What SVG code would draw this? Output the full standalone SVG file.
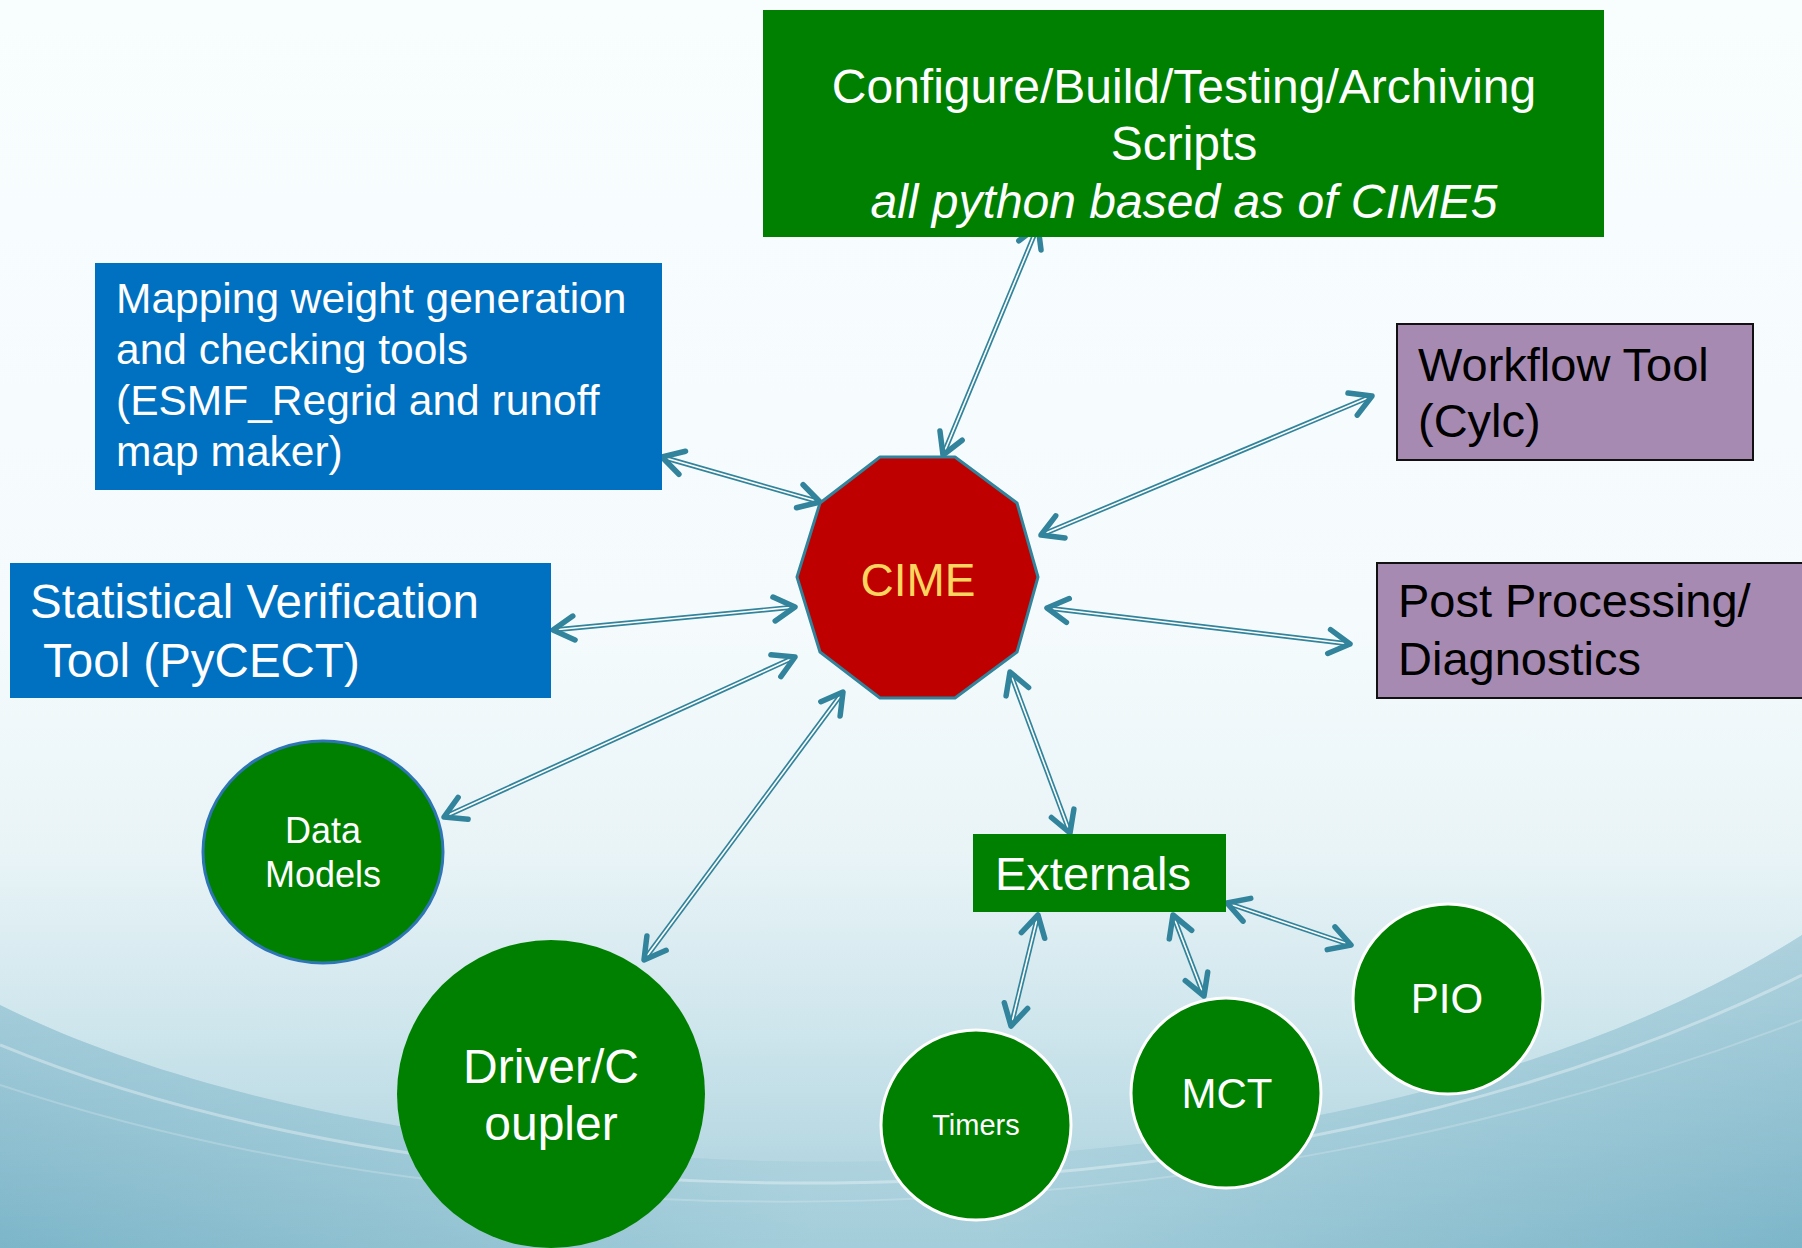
<svg xmlns="http://www.w3.org/2000/svg" width="1802" height="1248" viewBox="0 0 1802 1248">
<defs>
<linearGradient id="bg" x1="0" y1="0" x2="0" y2="1">
<stop offset="0" stop-color="#F8FDFE"/>
<stop offset="0.5" stop-color="#F5FBFD"/>
<stop offset="0.68" stop-color="#E9F4F7"/>
<stop offset="0.82" stop-color="#CFE6ED"/>
<stop offset="1" stop-color="#A6CEDB"/>
</linearGradient>
<linearGradient id="side" x1="0" y1="0" x2="1" y2="0">
<stop offset="0" stop-color="#78B3C7"/>
<stop offset="0.45" stop-color="#A3CDDA"/>
<stop offset="0.55" stop-color="#A3CDDA"/>
<stop offset="1" stop-color="#78B3C7"/>
</linearGradient>
<linearGradient id="fade" x1="0" y1="0" x2="0" y2="1">
<stop offset="0" stop-color="#FFFFFF" stop-opacity="0.35"/>
<stop offset="1" stop-color="#FFFFFF" stop-opacity="0"/>
</linearGradient>
<marker id="ah" viewBox="-26 -16 30 32" markerWidth="30" markerHeight="32" refX="0" refY="0" markerUnits="userSpaceOnUse" orient="auto-start-reverse" overflow="visible">
<path d="M -21 -12 L 0 0 L -21 12" fill="none" stroke="#31849B" stroke-width="5.5" stroke-linecap="round" stroke-linejoin="round"/>
</marker>
<style>
.t{font-family:"Liberation Sans",Arial,sans-serif}
.w{fill:#FFFFFF}
.k{fill:#000000}
.green{fill:#008000}
.blue{fill:#0070C0}
.purple{fill:#A68AB2;stroke:#111111;stroke-width:2}
.wc{fill:#008000;stroke:#FFFFFF;stroke-width:3}
.o{stroke:#31849B;stroke-width:5;fill:none}
.i{stroke:#FFFFFF;stroke-width:1.6;fill:none}
.m{stroke:none;fill:none;marker-start:url(#ah);marker-end:url(#ah)}
</style>
</defs>
<g id="background">
<rect x="0" y="0" width="1802" height="1248" fill="url(#bg)"/>
<path d="M0,1005 C 420,1215 1330,1235 1802,935 L1802,1248 L0,1248 Z" fill="url(#side)" opacity="0.9"/>
<path d="M0,1005 C 420,1215 1330,1235 1802,935 L1802,1248 L0,1248 Z" fill="url(#fade)"/>
<path d="M0,1045 C 450,1230 1250,1250 1802,975" fill="none" stroke="#FFFFFF" stroke-opacity="0.35" stroke-width="3"/>
<path d="M0,1085 C 500,1250 1200,1250 1802,1020" fill="none" stroke="#FFFFFF" stroke-opacity="0.2" stroke-width="2"/>
</g>
<g id="connectors">
<g><line class="o" x1="1038" y1="226" x2="943" y2="455"/><line class="i" x1="1038" y1="226" x2="943" y2="455"/><line class="m" x1="1038" y1="226" x2="943" y2="455"/></g>
<g><line class="o" x1="662" y1="457" x2="820" y2="502"/><line class="i" x1="662" y1="457" x2="820" y2="502"/><line class="m" x1="662" y1="457" x2="820" y2="502"/></g>
<g><line class="o" x1="1041" y1="535" x2="1372" y2="396"/><line class="i" x1="1041" y1="535" x2="1372" y2="396"/><line class="m" x1="1041" y1="535" x2="1372" y2="396"/></g>
<g><line class="o" x1="1047" y1="608" x2="1350" y2="644"/><line class="i" x1="1047" y1="608" x2="1350" y2="644"/><line class="m" x1="1047" y1="608" x2="1350" y2="644"/></g>
<g><line class="o" x1="553" y1="630" x2="795" y2="607"/><line class="i" x1="553" y1="630" x2="795" y2="607"/><line class="m" x1="553" y1="630" x2="795" y2="607"/></g>
<g><line class="o" x1="444" y1="817" x2="795" y2="657"/><line class="i" x1="444" y1="817" x2="795" y2="657"/><line class="m" x1="444" y1="817" x2="795" y2="657"/></g>
<g><line class="o" x1="644" y1="960" x2="843" y2="692"/><line class="i" x1="644" y1="960" x2="843" y2="692"/><line class="m" x1="644" y1="960" x2="843" y2="692"/></g>
<g><line class="o" x1="1010" y1="672" x2="1070" y2="833"/><line class="i" x1="1010" y1="672" x2="1070" y2="833"/><line class="m" x1="1010" y1="672" x2="1070" y2="833"/></g>
<g><line class="o" x1="1038" y1="915" x2="1011" y2="1026"/><line class="i" x1="1038" y1="915" x2="1011" y2="1026"/><line class="m" x1="1038" y1="915" x2="1011" y2="1026"/></g>
<g><line class="o" x1="1173" y1="915" x2="1204" y2="996"/><line class="i" x1="1173" y1="915" x2="1204" y2="996"/><line class="m" x1="1173" y1="915" x2="1204" y2="996"/></g>
<g><line class="o" x1="1227" y1="903" x2="1351" y2="945"/><line class="i" x1="1227" y1="903" x2="1351" y2="945"/><line class="m" x1="1227" y1="903" x2="1351" y2="945"/></g>
</g>
<g id="scripts">
<rect class="green" x="763" y="10" width="841" height="227"/>
<text class="t w" font-size="48" text-anchor="middle" x="1184" y="103">Configure/Build/Testing/Archiving</text>
<text class="t w" font-size="48" text-anchor="middle" x="1184" y="160">Scripts</text>
<text class="t w" font-size="48" font-style="italic" text-anchor="middle" x="1184" y="218">all python based as of CIME5</text>
</g>
<g id="mapping">
<rect class="blue" x="95" y="263" width="567" height="227"/>
<text class="t w" font-size="42.5" x="116" y="313">Mapping weight generation</text>
<text class="t w" font-size="42.5" x="116" y="364">and checking tools</text>
<text class="t w" font-size="42.5" x="116" y="415">(ESMF_Regrid and runoff</text>
<text class="t w" font-size="42.5" x="116" y="466">map maker)</text>
</g>
<g id="workflow">
<rect class="purple" x="1397" y="324" width="356" height="136"/>
<text class="t k" font-size="47" x="1418" y="381">Workflow Tool</text>
<text class="t k" font-size="47" x="1418" y="437">(Cylc)</text>
</g>
<g id="postprocessing">
<rect class="purple" x="1377" y="563" width="440" height="135"/>
<text class="t k" font-size="47" x="1398" y="617">Post Processing/</text>
<text class="t k" font-size="47" x="1398" y="675">Diagnostics</text>
</g>
<g id="statistical">
<rect class="blue" x="10" y="563" width="541" height="135"/>
<text class="t w" font-size="47.5" x="30" y="618">Statistical Verification</text>
<text class="t w" font-size="47.5" x="43" y="677">Tool (PyCECT)</text>
</g>
<g id="cime">
<polygon points="880,457 955,457 1017,503 1038,577 1017,652 955,698 880,698 820,652 797,577 820,503" fill="#BE0000" stroke="#31849B" stroke-width="3" stroke-linejoin="round"/>
<text class="t" font-size="46" fill="#FFD45F" text-anchor="middle" x="918" y="596">CIME</text>
</g>
<g id="datamodels">
<ellipse cx="323" cy="852" rx="120" ry="111" fill="#008000" stroke="#2E75B6" stroke-width="3"/>
<text class="t w" font-size="36" text-anchor="middle" x="323" y="843">Data</text>
<text class="t w" font-size="36" text-anchor="middle" x="323" y="887">Models</text>
</g>
<g id="driver">
<ellipse cx="551" cy="1094" rx="154" ry="154" fill="#008000"/>
<text class="t w" font-size="48" text-anchor="middle" x="551" y="1083">Driver/C</text>
<text class="t w" font-size="48" text-anchor="middle" x="551" y="1140">oupler</text>
</g>
<g id="externals">
<rect class="green" x="973" y="834" width="253" height="78"/>
<text class="t w" font-size="47" x="995" y="890">Externals</text>
</g>
<g id="timers">
<circle class="wc" cx="976" cy="1125" r="95"/>
<text class="t w" font-size="29" text-anchor="middle" x="976" y="1135">Timers</text>
</g>
<g id="mct">
<circle class="wc" cx="1226" cy="1093" r="95"/>
<text class="t w" font-size="42" text-anchor="middle" x="1227" y="1108">MCT</text>
</g>
<g id="pio">
<circle class="wc" cx="1448" cy="999" r="95"/>
<text class="t w" font-size="42" text-anchor="middle" x="1447" y="1013">PIO</text>
</g>
</svg>
